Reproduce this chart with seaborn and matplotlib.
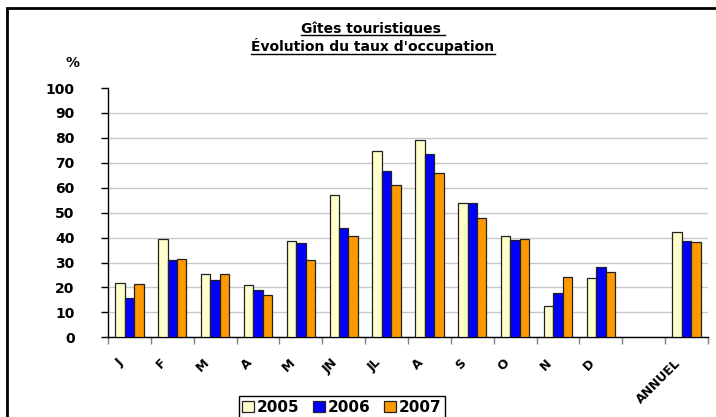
import pandas as pd
import matplotlib.pyplot as plt
import seaborn as sns
from matplotlib.patches import Patch, Rectangle
from matplotlib.lines import Line2D
from matplotlib.transforms import ScaledTranslation

# Données : taux d'occupation des gîtes (%)
mois = ['J', 'F', 'M', 'A', 'M ', 'JN', 'JL', 'A ', 'S', 'O', 'N', 'D', '', 'ANNUEL']
etiquettes = ['J', 'F', 'M', 'A', 'M', 'JN', 'JL', 'A', 'S', 'O', 'N', 'D', '', 'ANNUEL']
annees = ['2005', '2006', '2007']
taux_2005 = [21.6, 39.5, 25.5, 20.8, 38.7, 56.9, 74.9, 79.3, 54.0, 40.5, 12.4, 23.7, None, 42.3]
taux_2006 = [15.6, 31.2, 22.8, 18.8, 38.0, 43.7, 66.9, 73.5, 53.7, 39.1, 17.7, 28.0, None, 38.8]
taux_2007 = [21.2, 31.6, 25.2, 16.9, 30.9, 40.7, 60.9, 66.1, 47.7, 39.5, 24.3, 26.0, None, 38.4]
couleurs = ['#FFFFCC', '#0000FF', '#FF9900']

df = pd.DataFrame({'mois': mois, '2005': taux_2005, '2006': taux_2006, '2007': taux_2007})
long = df.melt(id_vars='mois', var_name='annee', value_name='taux')

W, H = 716, 417
fig = plt.figure(figsize=(W / 100, H / 100), dpi=100)
ax = fig.add_axes([108 / W, 1 - 337.3 / H, 600 / W, (337.3 - 88) / H])

sns.barplot(data=long, x='mois', y='taux', hue='annee', order=mois, hue_order=annees,
            palette=couleurs, width=0.66, gap=0, edgecolor='#222222', linewidth=0.9,
            saturation=1, legend=False, ax=ax, zorder=3)

ax.set_xlim(-0.5, len(mois) - 0.5)
ax.set_ylim(0, 100)
ax.set_yticks(range(0, 101, 10))
ax.set_yticklabels([str(v) for v in range(0, 101, 10)], fontsize=10, fontweight='bold')
ax.tick_params(axis='y', length=5, width=1, pad=19, color='black')

# ticks aux limites des catégories, étiquettes au centre
ax.set_xticks([i - 0.5 for i in range(len(mois) + 1)])
ax.set_xticklabels([])
ax.tick_params(axis='x', which='major', length=5, width=1, color='#808080')
ax.set_xticks(range(len(mois)), minor=True)
ax.set_xticklabels(etiquettes, minor=True, rotation=45, ha='right', va='center',
                   rotation_mode='anchor', fontsize=9, fontweight='bold')
ax.tick_params(axis='x', which='minor', length=0, pad=17)
decalage = ScaledTranslation(-8 / 100, 0, fig.dpi_scale_trans)
for lab in ax.get_xticklabels(minor=True):
    lab.set_transform(lab.get_transform() + decalage)

ax.set_xlabel('')
ax.set_ylabel('')
ax.yaxis.grid(True, color='#C8C8C8', linewidth=1)
ax.set_axisbelow(True)
fig.canvas.draw()
ax.yaxis.get_gridlines()[-1].set_visible(False)
for s in ['top', 'right']:
    ax.spines[s].set_visible(False)
for s in ['left', 'bottom']:
    ax.spines[s].set_linewidth(1)
    ax.spines[s].set_color('black')

# cadre du graphique
fig.patches.append(Rectangle((7 / W, -0.1), 1.1, 1 - 8 / H + 0.1, transform=fig.transFigure,
                             fill=False, edgecolor='black', linewidth=2))

# titre souligné
renderer = fig.canvas.get_renderer()
for texte, y in [('Gîtes touristiques ', 1 - 33 / H), ("Évolution du taux d'occupation", 1 - 51 / H)]:
    t = fig.text(373 / W, y, texte, ha='center', va='baseline', fontsize=10, fontweight='bold')
    bb = t.get_window_extent(renderer)
    fig.add_artist(Line2D([bb.x0 / W, bb.x1 / W], [y - 2.5 / H, y - 2.5 / H],
                          transform=fig.transFigure, color='black', linewidth=1))

fig.text(72 / W, 1 - 63 / H, '%', ha='center', va='center', fontsize=10, fontweight='bold')

poignees = [Patch(facecolor=c, edgecolor='#222222', linewidth=0.9) for c in couleurs]
leg = fig.legend(poignees, annees, loc='lower center', bbox_to_anchor=(342 / W, -0.004), ncol=3,
                 frameon=True, fancybox=False, edgecolor='black', framealpha=1,
                 prop={'weight': 'bold', 'size': 11}, handlelength=0.75, handleheight=0.75,
                 handletextpad=0.2, columnspacing=0.9, borderpad=0.25, borderaxespad=0)
leg.get_frame().set_linewidth(1)

fig.savefig('out.png', dpi=100)
